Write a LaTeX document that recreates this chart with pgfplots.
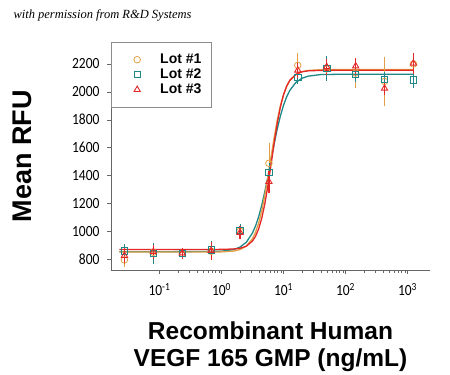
\documentclass[border=0pt]{standalone}
\usepackage{fontspec}
\setmainfont{Liberation Sans}
\newfontfamily\tickfont[FakeStretch=0.87]{Carlito}
\newfontfamily\headfont{Liberation Serif}
\usepackage{pgfplots}
\pgfplotsset{compat=1.18}
\definecolor{lotA}{RGB}{226,160,70}
\definecolor{lotB}{RGB}{30,135,135}
\definecolor{lotC}{RGB}{228,38,38}
\pgfplotsset{mylegimg/.style={legend image code/.code={\path[draw=none] (0pt,0pt) rectangle (39pt,0pt); \draw[mark repeat=1,##1,only marks] plot coordinates {(16pt,0pt)};}}}
\begin{document}
\begin{tikzpicture}
\useasboundingbox (-111pt,-105pt) rectangle (339pt,270pt);
\node[anchor=base west, font=\headfont\itshape\fontsize{12.5}{14}\selectfont] at (-101pt,251pt) {with permission from R\&D Systems};
\begin{axis}[
  scale only axis, width=319pt, height=228pt,
  xmode=log, xmin=0.01652, xmax=2306,
  ymin=721, ymax=2358,
  axis x line*=bottom, axis y line*=left,
  axis line style={-, draw=black!60},
  tick align=outside,
  major tick length=4pt, minor tick length=2.5pt,
  tick style={black!60},
  xtick={0.1,1,10,100,1000},
  xticklabels={10\textsuperscript{-1},10\textsuperscript{0},10\textsuperscript{1},10\textsuperscript{2},10\textsuperscript{3}},
  ytick={800,1000,1200,1400,1600,1800,2000,2200},
  yticklabels={800,1000,1200,1400,1600,1800,2000,2200},
  minor y tick num=0,
  ticklabel style={font=\tickfont\fontsize{15.5}{16}\selectfont},
  xticklabel style={yshift=-6pt},
  yticklabel style={xshift=-4pt},
  xlabel={Recombinant Human\\VEGF 165 GMP (ng/mL)},
  xlabel style={at={(axis description cs:0.5,0)}, anchor=north, yshift=-48pt, align=center, font=\bfseries\fontsize{24.5}{27}\selectfont},
  ylabel={Mean RFU},
  ylabel style={at={(axis description cs:-0.279,0.5)}, anchor=center, font=\bfseries\fontsize{27}{30}\selectfont},
  legend style={at={(0,1)}, anchor=north west, draw=black!45, fill=white,
    inner xsep=10pt, inner ysep=10pt,
    font=\bfseries\fontsize{14}{15}\selectfont,
    nodes={text height=10pt, text depth=3pt, inner ysep=1pt, inner xsep=0pt}},
  legend cell align=left,
  clip=false,
]
% fitted curves
\addplot[lotB, line width=1.3pt, forget plot] coordinates {
(0.0226,852) (0.3162,853) (1,856) (1.585,868) (1.995,886) (2.512,920) (3.162,987) (3.548,1038) (3.981,1104) (4.467,1187) (5.012,1286) (5.623,1396) (6.310,1513) (7.079,1628) (7.943,1735) (8.913,1827) (10,1903) (11.22,1963) (12.59,2009) (15.85,2068) (19.95,2098) (25.12,2113) (39.81,2124) (100,2127) (1259,2127)};
\addplot[lotA, line width=1.3pt, forget plot] coordinates {
(0.0226,850) (0.3162,850) (1,851) (1.585,857) (1.995,868) (2.512,892) (3.162,946) (3.548,993) (3.981,1059) (4.467,1147) (5.012,1260) (5.623,1392) (6.310,1534) (7.079,1673) (7.943,1798) (8.913,1901) (10,1980) (11.22,2038) (12.59,2079) (15.85,2125) (19.95,2145) (25.12,2154) (39.81,2159) (100,2160) (1259,2160)};
\addplot[lotC, line width=1.3pt, forget plot] coordinates {
(0.0226,868) (0.3162,868) (1,869) (1.585,872) (1.995,877) (2.512,892) (3.162,929) (3.548,964) (3.981,1017) (4.467,1094) (5.012,1198) (5.623,1330) (6.310,1480) (7.079,1635) (7.943,1775) (8.913,1891) (10,1978) (11.22,2040) (12.59,2082) (15.85,2126) (19.95,2144) (25.12,2151) (39.81,2154) (100,2155) (1259,2155)};
% data points
\addplot[lotA, only marks, mark=o, mark size=3.3pt, line width=0.8pt, mylegimg,
  error bars/.cd, y dir=both, y explicit, error bar style={line width=0.8pt}, error mark options={mark size=4pt, line width=0.8pt}]
coordinates {
(0.0272,793) +- (0,20)
(0.0796,848) +- (0,20)
(0.233,840) +- (0,10)
(0.681,855) +- (0,35)
(1.99,1000) +- (0,15)
(5.82,1487) +- (0,120)
(17.0,2190) +- (0,60)
(49.8,2165) +- (0,50)
(146,2135) +- (0,75)
(426,2075) +- (0,150)
(1245,2200) +- (0,40)
};
\addlegendentry{Lot \#1}
\addplot[lotB, only marks, mark=square, mark size=3.2pt, line width=0.8pt, mylegimg,
  error bars/.cd, y dir=both, y explicit, error bar style={line width=0.8pt}, error mark options={mark size=4pt, line width=0.8pt}]
coordinates {
(0.0272,857) +- (0,20)
(0.0796,840) +- (0,45)
(0.233,840) +- (0,10)
(0.681,865) +- (0,35)
(1.99,1005) +- (0,15)
(5.82,1420) +- (0,40)
(17.0,2105) +- (0,20)
(49.8,2170) +- (0,60)
(146,2125) +- (0,25)
(426,2090) +- (0,25)
(1245,2085) +- (0,30)
};
\addlegendentry{Lot \#2}
\addplot[lotC, only marks, mark=triangle, mark size=3.6pt, line width=0.9pt, mylegimg,
  error bars/.cd, y dir=both, y explicit, error bar style={line width=1.2pt}, error mark options={mark size=4pt, line width=1.2pt}]
coordinates {
(0.0272,825) +- (0,30)
(0.0796,852) +- (0,20)
(0.233,842) +- (0,10)
(0.681,860) +- (0,35)
(1.99,990) +- (0,15)
(5.82,1355) +- (0,50)
(17.0,2155) +- (0,30)
(49.8,2180) +- (0,30)
(146,2185) +- (0,30)
(426,2025) +- (0,20)
(1245,2205) +- (0,45)
};
\addlegendentry{Lot \#3}
\end{axis}
\end{tikzpicture}
\end{document}
